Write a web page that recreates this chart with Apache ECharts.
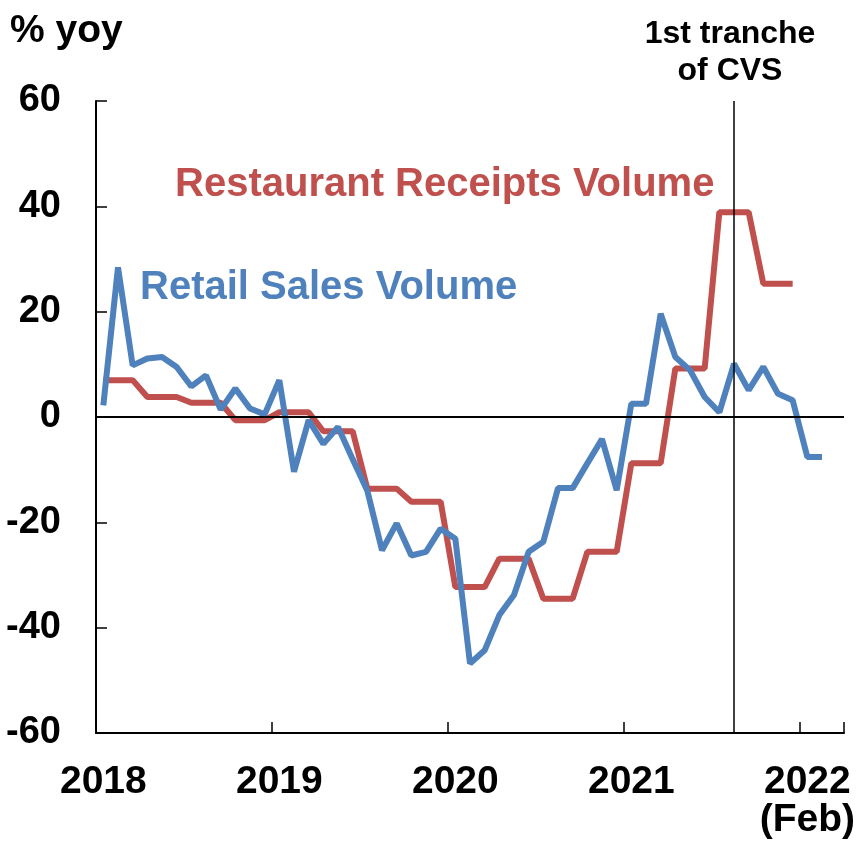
<!DOCTYPE html>
<html>
<head>
<meta charset="utf-8">
<script src="https://cdn.jsdelivr.net/npm/echarts@6/dist/echarts.min.js"></script>
<style>
  html, body { margin: 0; padding: 0; background: #fff; }
  #chart { width: 860px; height: 841px; }
</style>
</head>
<body>
<div id="chart"></div>
<script>
// monthly, Jan 2018 .. Mar 2022 (axis runs one month past the last point)
const months = [];
for (let y = 2018; y <= 2022; y++) {
  for (let m = 1; m <= 12; m++) {
    if (y === 2022 && m > 3) break;
    months.push(y + '-' + String(m).padStart(2, '0'));
  }
}

// % yoy, Jan 2018 .. Feb 2022
const retailSales = [
  2.2, 28.4, 9.8, 11.1, 11.4, 9.5, 5.8, 7.9, 1.4, 5.4, 1.6, 0.5,
  7.0, -10.4, -0.6, -5.1, -1.9, -8.0, -14.0, -25.3, -20.2, -26.3, -25.6, -21.2,
  -23.1, -46.8, -44.3, -37.6, -33.8, -25.6, -23.7, -13.5, -13.5, -8.8, -4.2, -13.9,
  2.5, 2.5, 19.6, 11.4, 8.9, 3.8, 0.9, 10.1, 5.1, 9.5, 4.4, 3.2,
  -7.6, -7.6
];

// % yoy, quarterly figure repeated over its months, Jan 2018 .. Dec 2021
const restaurantReceipts = [
  7.0, 7.0, 7.0, 3.8, 3.8, 3.8, 2.7, 2.7, 2.7, -0.6, -0.6, -0.6,
  0.9, 0.9, 0.9, -2.7, -2.7, -2.7, -13.6, -13.6, -13.6, -16.1, -16.1, -16.1,
  -32.3, -32.3, -32.3, -26.9, -26.9, -26.9, -34.5, -34.5, -34.5, -25.6, -25.6, -25.6,
  -8.8, -8.8, -8.8, 9.2, 9.2, 9.2, 38.9, 38.9, 38.9, 25.3, 25.3, 25.3
];

const cvsMonth = '2021-08';
const yTicks = { min: -60, max: 60, step: 20 };

const font = '"Liberation Sans", Arial, sans-serif';
const blue = '#4F81BD';
const red = '#C0504D';

const chart = echarts.init(document.getElementById('chart'), null, { renderer: 'canvas' });

chart.setOption({
  animation: false,
  backgroundColor: '#fff',
  grid: { left: 96, right: 16, top: 101, bottom: 108, outerBoundsMode: 'none' },
  xAxis: {
    type: 'category',
    data: months,
    boundaryGap: true,
    axisLine: { onZero: false, lineStyle: { color: '#000', width: 2 } },
    axisTick: {
      show: true,
      inside: true,
      length: 11,
      interval: 11,
      lineStyle: { color: '#000', width: 1.5 }
    },
    axisLabel: {
      interval: 11,
      margin: 30,
      color: '#000',
      fontFamily: font,
      fontWeight: 'bold',
      fontSize: 39,
      lineHeight: 38,
      formatter: (v) => {
        const yr = v.slice(0, 4);
        return yr === '2022' ? yr + '\n(Feb)' : yr;
      }
    },
    splitLine: { show: false }
  },
  yAxis: {
    type: 'value',
    min: yTicks.min,
    max: yTicks.max,
    interval: yTicks.step,
    axisLine: { show: true, lineStyle: { color: '#000', width: 2 } },
    axisTick: { show: true, inside: true, length: 11, lineStyle: { color: '#000', width: 1.5 } },
    axisLabel: {
      margin: 35,
      color: '#000',
      fontFamily: font,
      fontWeight: 'bold',
      fontSize: 38
    },
    splitLine: { show: false }
  },
  series: [
    {
      name: 'Retail Sales Volume',
      type: 'line',
      data: retailSales,
      symbol: 'none',
      lineStyle: { color: blue, width: 6 },
      z: 3,
      markLine: {
        silent: true,
        symbol: 'none',
        label: { show: false },
        data: [
          { yAxis: 0, lineStyle: { color: '#000', width: 2, type: 'solid' } },
          { xAxis: cvsMonth, lineStyle: { color: '#000', width: 1.5, type: 'solid' } }
        ]
      }
    },
    {
      name: 'Restaurant Receipts Volume',
      type: 'line',
      data: restaurantReceipts,
      symbol: 'none',
      lineStyle: { color: red, width: 6 },
      z: 2
    }
  ],
  graphic: [
    {
      type: 'text', left: 10, top: 12,
      style: { text: '% yoy', fill: '#000', font: 'bold 39px ' + font }
    },
    {
      type: 'text', left: 140, top: 268,
      style: { text: 'Retail Sales Volume', fill: blue, font: 'bold 40px ' + font }
    },
    {
      type: 'text', left: 175, top: 165,
      style: { text: 'Restaurant Receipts Volume', fill: red, font: 'bold 40px ' + font }
    },
    {
      type: 'text', x: 730, y: 16,
      style: {
        text: '1st tranche\nof CVS', fill: '#000', align: 'center',
        font: 'bold 32px ' + font, lineHeight: 37
      }
    }
  ]
});
</script>
</body>
</html>
